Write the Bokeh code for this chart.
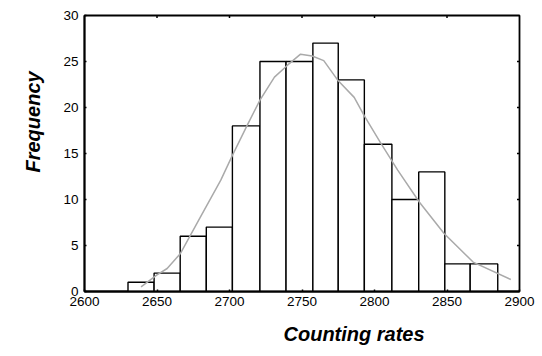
from bokeh.plotting import figure
from bokeh.models import Range1d, FixedTicker, Title
from bokeh.embed import file_html
from bokeh.resources import INLINE

# Histogram bins (left/right edges) and counts
bin_left = [2630, 2648, 2666, 2684, 2702, 2721, 2739, 2757.5, 2775, 2793, 2812, 2830.5, 2848.5, 2866]
bin_right = [2648, 2666, 2684, 2702, 2721, 2739, 2757.5, 2775, 2793, 2812, 2830.5, 2848.5, 2866, 2885]
counts = [1, 2, 6, 7, 18, 25, 25, 27, 23, 16, 10, 13, 3, 3]

# Smoothed density curve
curve_x = [2639, 2650, 2657, 2666, 2680, 2694, 2702, 2712, 2721, 2731, 2740, 2749, 2757,
           2765, 2775, 2786, 2793, 2804, 2816, 2831, 2848, 2868, 2894]
curve_y = [0.5, 1.8, 2.5, 4.1, 8.1, 12.1, 14.8, 18.0, 20.8, 23.3, 24.6, 25.8, 25.6,
           25.1, 22.9, 21.1, 19.1, 16.2, 13.2, 9.7, 6.3, 3.2, 1.3]

x_ticks = [2600, 2650, 2700, 2750, 2800, 2850, 2900]
y_ticks = [0, 5, 10, 15, 20, 25, 30]

FONT = "Liberation Sans"
X0, X1, Y0, Y1 = 2600, 2900, 0, 30

p = figure(width=542, height=356, output_backend="svg", toolbar_location=None,
           x_range=Range1d(X0, X1), y_range=Range1d(Y0, Y1),
           min_border_left=84, min_border_right=23, min_border_top=15, min_border_bottom=65)

p.grid.visible = False
p.outline_line_color = "black"
p.outline_line_width = 1.8

p.quad(left=bin_left, right=bin_right, bottom=0, top=counts,
       fill_color="white", line_color="black", line_width=1.4)
p.line(curve_x, curve_y, line_color="#aaaaaa", line_width=1.5)

for ax, t in ((p.xaxis[0], x_ticks), (p.yaxis[0], y_ticks)):
    ax.ticker = FixedTicker(ticks=t)
    ax.minor_tick_line_color = None
    ax.major_tick_in = 2
    ax.major_tick_out = 0
    ax.major_tick_line_width = 1.5
    ax.major_tick_line_color = "black"
    ax.axis_line_color = "black"
    ax.axis_line_width = 1.8
    ax.major_label_text_font = FONT
    ax.major_label_text_font_size = "13.5px"
    ax.major_label_text_color = "black"
p.xaxis[0].major_label_standoff = 5
p.yaxis[0].major_label_standoff = 6

# small inward tick marks on the top and right frame edges
tx = x_ticks[1:-1]
ty = y_ticks[1:-1]
dy = (Y1 - Y0) / 276 * 2.5
dx = (X1 - X0) / 435 * 2.5
p.segment(x0=tx, y0=[Y1] * len(tx), x1=tx, y1=[Y1 - dy] * len(tx), line_color="black", line_width=1.5)
p.segment(x0=[X1] * len(ty), y0=ty, x1=[X1 - dx] * len(ty), y1=ty, line_color="black", line_width=1.5)

p.add_layout(Title(text="Frequency", align="left", offset=119, standoff=34,
                   text_font=FONT, text_font_size="20px", text_font_style="bold italic",
                   text_color="black"), "left")
p.add_layout(Title(text="Counting rates", align="left", offset=199, standoff=24,
                   text_font=FONT, text_font_size="20px", text_font_style="bold italic",
                   text_color="black"), "below")

open("out.html", "w").write(file_html(p, INLINE))
